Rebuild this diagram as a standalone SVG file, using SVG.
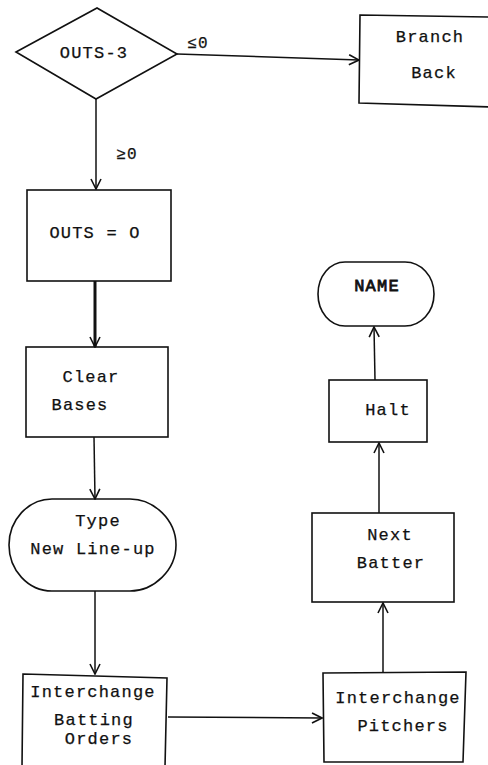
<svg xmlns="http://www.w3.org/2000/svg" width="488" height="765" viewBox="0 0 488 765">
<style>
.s{fill:none;stroke:#111;stroke-width:1.6}
.c{fill:none;stroke:#111;stroke-width:1.5}
text{font-family:"Liberation Mono","DejaVu Sans Mono",monospace;font-size:17px;fill:#111;stroke:#111;stroke-width:0.25;letter-spacing:1.2px;text-anchor:middle}
</style>
<defs>
<marker id="a" viewBox="0 0 12 12" refX="11" refY="6" markerWidth="12" markerHeight="12" markerUnits="userSpaceOnUse" orient="auto">
<path d="M1,1 L11,6 L1,11" fill="none" stroke="#111" stroke-width="1.6"/>
</marker>
</defs>
<rect width="488" height="765" fill="#fff"/>
<g id="connectors">
<line class="c" x1="177" y1="54" x2="359" y2="60" marker-end="url(#a)"/>
<text x="198" y="48" style="font-size:16px">≤0</text>
<line class="c" x1="96" y1="99" x2="96" y2="189" marker-end="url(#a)"/>
<text x="127" y="159" style="font-size:16px">≥0</text>
<line class="c" x1="95" y1="281" x2="95" y2="347" style="stroke-width:3" marker-end="url(#a)"/>
<line class="c" x1="94" y1="437" x2="95" y2="499" marker-end="url(#a)"/>
<line class="c" x1="95" y1="591" x2="95" y2="674" marker-end="url(#a)"/>
<line class="c" x1="168" y1="717" x2="322" y2="718" marker-end="url(#a)"/>
<line class="c" x1="383" y1="672" x2="383" y2="603" marker-end="url(#a)"/>
<line class="c" x1="379" y1="513" x2="379" y2="443" marker-end="url(#a)"/>
<line class="c" x1="375" y1="380" x2="374" y2="327" marker-end="url(#a)"/>
</g>
<g id="n-outs3">
<polygon class="s" points="16,52 97,8 177,54 96,99"/>
<text x="94" y="58">OUTS-3</text>
</g>
<g id="n-branch">
<polygon class="s" points="360,15 492,17 492,107 359,103"/>
<text x="430" y="42">Branch</text>
<text x="434" y="78">Back</text>
</g>
<g id="n-outs0">
<rect class="s" x="27" y="190" width="144" height="91"/>
<text x="95" y="238">OUTS = O</text>
</g>
<g id="n-clear">
<rect class="s" x="26" y="347" width="142" height="90"/>
<text x="91" y="382">Clear</text>
<text x="80" y="410">Bases</text>
</g>
<g id="n-type">
<path class="s" d="M52,499 H130 C154,499 176,520 176,545 C176,570 154,591 130,591 H52 C28,591 9,570 9,545 C9,520 28,499 52,499 Z"/>
<text x="98" y="526">Type</text>
<text x="93" y="554">New Line-up</text>
</g>
<g id="n-batting">
<polygon class="s" points="23,674 167,678 165,767 22,767"/>
<text x="93" y="697">Interchange</text>
<text x="94" y="725">Batting</text>
<text x="99" y="744">Orders</text>
</g>
<g id="n-pitchers">
<polygon class="s" points="323,673 466,672 463,762 324,762"/>
<text x="398" y="703">Interchange</text>
<text x="403" y="731">Pitchers</text>
</g>
<g id="n-next">
<rect class="s" x="312" y="513" width="142" height="89"/>
<text x="390" y="540">Next</text>
<text x="391" y="568">Batter</text>
</g>
<g id="n-halt">
<rect class="s" x="329" y="380" width="98" height="62"/>
<text x="388" y="415">Halt</text>
</g>
<g id="n-name">
<path class="s" d="M345,262 H405 C421,262 434,276 434,294 C434,312 421,326 405,326 H345 C330,326 318,312 318,294 C318,276 330,262 345,262 Z"/>
<text x="377" y="291" style="stroke-width:0.8">NAME</text>
</g>
</svg>
